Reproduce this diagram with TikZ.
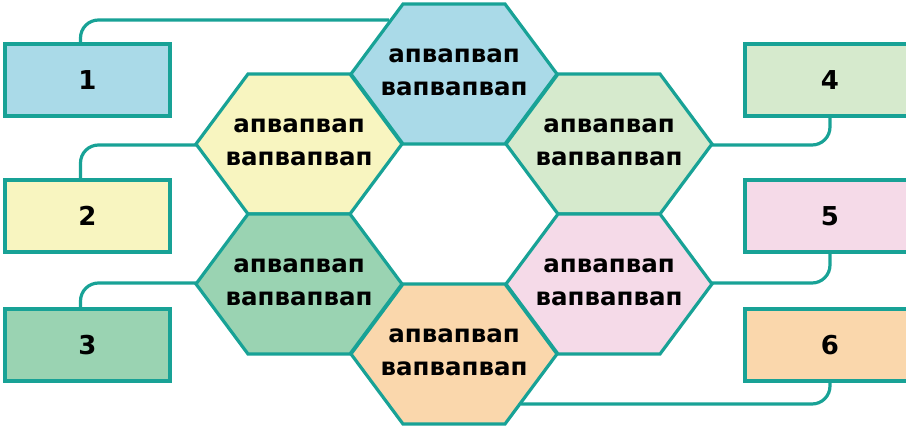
\documentclass[tikz,border=0pt]{standalone}
\usepackage{fontspec}
\setmainfont{DejaVu Sans}
\usepackage{tikz}
\usetikzlibrary{positioning}

\definecolor{teal1}{RGB}{24,162,150}
\definecolor{hblue}{RGB}{170,218,232}
\definecolor{hyellow}{RGB}{248,245,192}
\definecolor{hdgreen}{RGB}{154,211,178}
\definecolor{hlgreen}{RGB}{214,234,205}
\definecolor{hpink}{RGB}{245,218,232}
\definecolor{horange}{RGB}{250,215,172}

\begin{document}
\begin{tikzpicture}[x=1pt, y=-1pt,
    hexline/.style={draw=teal1, line width=3.2pt, line join=miter},
    numbox/.style={draw=teal1, line width=3.2pt, minimum width=165pt, minimum height=72pt,
        font=\fontsize{26}{30}\selectfont\bfseries},
    hextext/.style={align=center, font=\fontsize{24.5}{33}\selectfont\bfseries},
    link/.style={draw=teal1, line width=3.2pt, rounded corners=18pt}]
\useasboundingbox (0,0) rectangle (906,426);
\clip (0,0) rectangle (906,426);

% boxes
\node[numbox, fill=hblue]   (b1) at (87.5,80)  {1};
\node[numbox, fill=hyellow] (b2) at (87.5,216) {2};
\node[numbox, fill=hdgreen] (b3) at (87.5,345) {3};
\node[numbox, fill=hlgreen, minimum width=170pt] (b4) at (830,80)  {4};
\node[numbox, fill=hpink,   minimum width=170pt] (b5) at (830,216) {5};
\node[numbox, fill=horange, minimum width=170pt] (b6) at (830,345) {6};

\coordinate (blue-in) at (389,20);
\coordinate (orange-in) at (521,404);
\coordinate (yellow-w) at (196,145);
\coordinate (dgreen-w) at (196,283);
\coordinate (lgreen-e) at (712,145);
\coordinate (pink-e) at (712,283);

\draw[link] ([xshift=-7pt]b1.north) |- (blue-in);
\draw[link] ([xshift=-7pt]b2.north) |- (yellow-w);
\draw[link] ([xshift=-7pt]b3.north) |- (dgreen-w);
\draw[link] (b4.south) |- (lgreen-e);
\draw[link] (b5.south) |- (pink-e);
\draw[link] (b6.south) |- (orange-in);

% hexagons
\foreach \name/\cx/\cy/\col in {blue/454/74/hblue, yellow/299/144/hyellow,
    lgreen/609/144/hlgreen, dgreen/299/284/hdgreen, pink/609/284/hpink, orange/454/354/horange}
{
    \draw[hexline, fill=\col] (\cx,\cy) ++(-103,0) -- ++(52,-70) -- ++(102,0)
        -- ++(52,70) -- ++(-52,70) -- ++(-102,0) -- cycle;
    \node[hextext] (\name) at (\cx,\cy-2) {апвапвап\\вапвапвап};
}

\end{tikzpicture}
\end{document}
